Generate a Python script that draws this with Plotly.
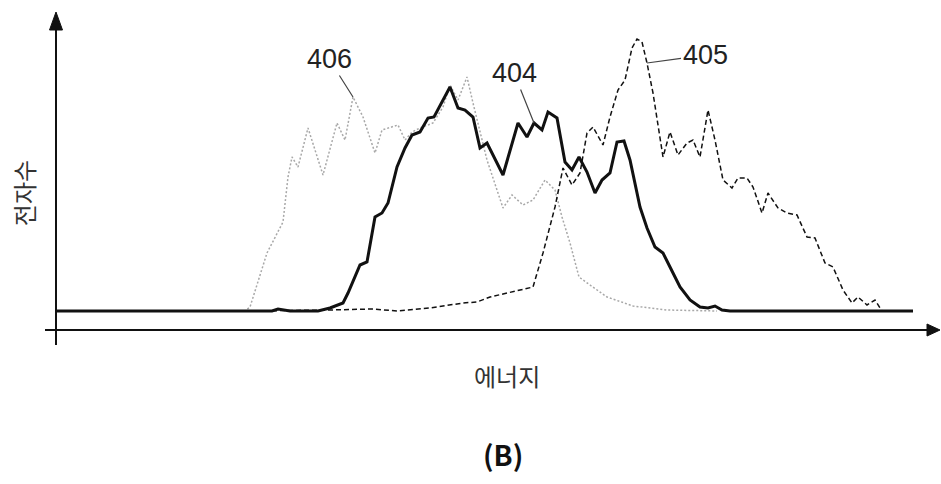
import plotly.graph_objects as go

# Energy (arbitrary units) and electron counts (arbitrary units)
e_404 = [0, 64, 124, 184, 216, 222, 234, 262, 274, 287, 292, 304, 311, 319, 326, 332, 341, 349, 356, 364,
         372, 378, 394, 402, 409, 417, 424, 431, 447, 462, 471, 478, 486, 492, 501, 509, 516, 523, 531, 539,
         546, 554, 561, 568, 574, 584, 591, 599, 607, 614, 624, 634, 644, 652, 659, 666, 674, 857]
c_404 = [19, 19, 19, 19, 19, 21, 19, 19, 22, 27, 37, 65, 68, 113, 117, 127, 163, 182, 195, 198,
         212, 213, 243, 222, 220, 213, 182, 187, 155, 207, 193, 207, 200, 218, 212, 168, 160, 173, 158, 137,
         150, 157, 188, 189, 170, 123, 102, 83, 77, 63, 43, 30, 23, 22, 24, 20, 19, 19]

e_405 = [0, 94, 194, 274, 317, 341, 374, 407, 421, 434, 451, 467, 477, 487, 499, 507, 516, 524, 531, 537,
         547, 554, 562, 569, 576, 581, 586, 591, 597, 607, 614, 622, 631, 637, 644, 652, 659, 667, 676, 682,
         691, 697, 706, 712, 722, 731, 741, 751, 759, 769, 777, 787, 796, 802, 811, 819, 826]
c_405 = [19, 19, 19, 20, 21, 19, 22, 27, 28, 33, 37, 40, 43, 77, 123, 162, 145, 157, 197, 203,
         185, 213, 240, 250, 282, 291, 288, 267, 237, 173, 198, 175, 187, 190, 173, 220, 190, 150, 142, 152,
         152, 143, 117, 137, 122, 117, 115, 93, 92, 67, 63, 40, 27, 33, 25, 30, 19]

e_406 = [0, 144, 189, 194, 211, 227, 232, 236, 242, 252, 267, 281, 289, 297, 307, 319, 326, 342, 349, 356,
         364, 377, 387, 394, 402, 411, 417, 431, 441, 447, 456, 467, 477, 489, 499, 506, 514, 523, 534, 551,
         577, 611, 661]
c_406 = [19, 19, 19, 23, 77, 108, 153, 173, 163, 202, 155, 207, 190, 233, 213, 177, 200, 205, 190, 198,
         202, 207, 223, 245, 230, 253, 227, 170, 140, 122, 135, 125, 130, 150, 140, 113, 87, 53, 45, 33,
         24, 20, 19]

series_labels = ["404", "405", "406"]
x_title = "에너지"
y_title = "전자수"
panel_label = "(B)"

X_MIN, X_MAX = -11, 884
Y_MIN, Y_MAX = -15, 318

fig = go.Figure()
fig.add_trace(go.Scatter(x=e_406, y=c_406, mode="lines",
                         line=dict(color="#a8a8a8", width=1.5, dash="2px,2px"), name="406"))
fig.add_trace(go.Scatter(x=e_405, y=c_405, mode="lines",
                         line=dict(color="#111111", width=1.5, dash="5px,3px"), name="405"))
fig.add_trace(go.Scatter(x=e_404, y=c_404, mode="lines",
                         line=dict(color="#111111", width=3), name="404"))

# axis lines and arrowheads
shapes = [
    dict(type="line", xref="x", yref="y", x0=0, x1=0, y0=Y_MIN, y1=Y_MAX - 10,
         line=dict(color="#111", width=2)),
    dict(type="line", xref="x", yref="y", x0=X_MIN, x1=X_MAX - 8, y0=0, y1=0,
         line=dict(color="#111", width=2)),
    dict(type="path", xref="x", yref="y",
         path=f"M 0 {Y_MAX} L -6.5 {Y_MAX-18} L 6.5 {Y_MAX-18} Z",
         fillcolor="#111", line=dict(color="#111", width=1)),
    dict(type="path", xref="x", yref="y",
         path=f"M {X_MAX} 0 L {X_MAX-13} 6 L {X_MAX-13} -6 Z",
         fillcolor="#111", line=dict(color="#111", width=1)),
]

def pick(xs, ys, target):
    i = xs.index(target)
    return xs[i], ys[i]

lbl_font = dict(family="Liberation Sans, Arial, sans-serif", size=27, color="#222")
x406, y406 = pick(e_406, c_406, 297)
x404, y404 = pick(e_404, c_404, 478)
x405, y405 = pick(e_405, c_405, 591)

annotations = [
    dict(x=x406, y=y406, xref="x", yref="y", text=series_labels[2], showarrow=True,
         arrowhead=0, arrowwidth=1.2, arrowcolor="#444", ax=-24, ay=-38, standoff=0,
         font=lbl_font),
    dict(x=x404, y=y404, xref="x", yref="y", text=series_labels[0], showarrow=True,
         arrowhead=0, arrowwidth=1.2, arrowcolor="#444", ax=-20, ay=-50, standoff=0,
         font=lbl_font),
    dict(x=x405, y=y405, xref="x", yref="y", text=series_labels[1], showarrow=True,
         arrowhead=0, arrowwidth=1.2, arrowcolor="#444", ax=58, ay=-8, standoff=0,
         font=lbl_font),
    dict(x=-0.0246, y=0.456, xref="paper", yref="paper", text=y_title, showarrow=False,
         textangle=-90, xanchor="center", yanchor="middle",
         font=dict(family="Noto Sans CJK KR", size=24, color="#333")),
    dict(x=0.516, y=-0.093, xref="paper", yref="paper", text=x_title, showarrow=False,
         xanchor="center", yanchor="middle",
         font=dict(family="Noto Sans CJK KR", size=24, color="#333")),
    dict(x=0.512, y=-0.327, xref="paper", yref="paper", text=f"<b>{panel_label}</b>", showarrow=False,
         xanchor="center", yanchor="middle",
         font=dict(family="Noto Sans CJK KR", size=28, color="#111")),
]

fig.update_layout(
    width=941, height=484,
    margin=dict(l=45, r=1, t=12, b=139),
    paper_bgcolor="white", plot_bgcolor="white",
    showlegend=False,
    xaxis=dict(range=[X_MIN, X_MAX], visible=False, fixedrange=True),
    yaxis=dict(range=[Y_MIN, Y_MAX], visible=False, fixedrange=True),
    shapes=shapes,
    annotations=annotations,
)

fig.write_html("out.html")
